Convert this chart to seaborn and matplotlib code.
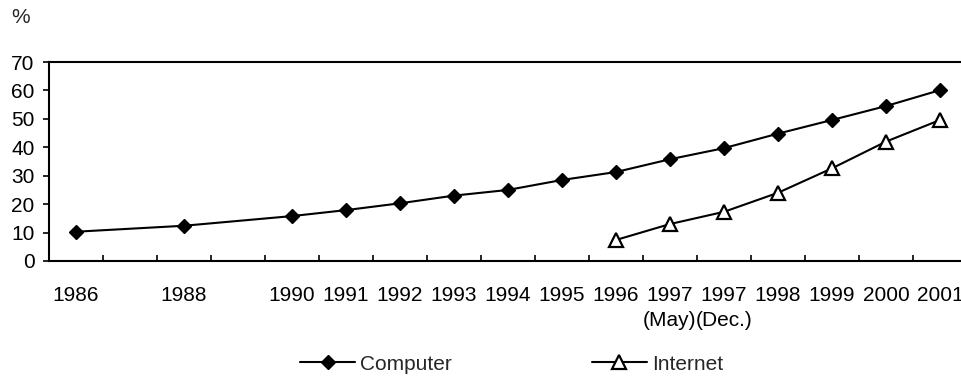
import matplotlib
matplotlib.use("Agg")
import matplotlib.pyplot as plt
import seaborn as sns
import pandas as pd

# ---- data ----
categories = ["1986", "", "1988", "", "1990", "1991", "1992", "1993", "1994",
              "1995", "1996", "1997\n(May)", "1997\n(Dec.)", "1998", "1999", "2000", "2001"]
computer_cats = ["1986", "1988", "1990", "1991", "1992", "1993", "1994", "1995",
                 "1996", "1997\n(May)", "1997\n(Dec.)", "1998", "1999", "2000", "2001"]
computer_vals = [10.3, 12.4, 15.8, 17.9, 20.3, 23.0, 25.0, 28.5, 31.3, 35.8, 39.7, 44.8, 49.6, 54.5, 60.1]
internet_cats = ["1996", "1997\n(May)", "1997\n(Dec.)", "1998", "1999", "2000", "2001"]
internet_vals = [7.4, 13.0, 17.3, 24.0, 32.6, 42.0, 49.6]
y_ticks = [0, 10, 20, 30, 40, 50, 60, 70]

sns.set_theme(style="white")
plt.rcParams["font.family"] = ["Liberation Sans", "DejaVu Sans"]
FS = 15

W, H = 962, 377
fig = plt.figure(figsize=(W / 100, H / 100), dpi=100)
ax = fig.add_axes([49 / W, (H - 261) / H, (17 * 54) / W, 199 / H])

pos = {c: i for i, c in enumerate(categories)}
df_c = pd.DataFrame({"x": [pos[c] for c in computer_cats], "y": computer_vals})
df_i = pd.DataFrame({"x": [pos[c] for c in internet_cats], "y": internet_vals})

sns.lineplot(data=df_c, x="x", y="y", ax=ax, color="black", lw=1.5,
             marker="D", markersize=7.5, markerfacecolor="black",
             markeredgecolor="black", markeredgewidth=1, label="Computer")
sns.lineplot(data=df_i, x="x", y="y", ax=ax, color="black", lw=1.5,
             marker="^", markersize=9.5, markerfacecolor="white",
             markeredgecolor="black", markeredgewidth=1.6, label="Internet")

ax.set_xlim(-0.5, len(categories) - 0.5)
ax.set_ylim(0, 70)

# category boundaries as inward ticks
ax.set_xticks([i + 0.5 for i in range(len(categories) - 1)])
ax.set_xticklabels([])
ax.tick_params(axis="x", which="major", direction="in", length=4.5, width=1.2,
               color="black", bottom=True)
ax.set_xticks(range(len(categories)), minor=True)
ax.set_xticklabels(categories, minor=True, fontsize=FS, linespacing=1.4)
ax.tick_params(axis="x", which="minor", length=0, pad=18, labelcolor="black")

ax.set_yticks(y_ticks)
ax.set_yticklabels([str(v) for v in y_ticks], fontsize=FS)
ax.tick_params(axis="y", direction="out", length=4.5, width=1.2, color="black",
               left=True, pad=6, labelcolor="black")

ax.set_xlabel("")
ax.set_ylabel("")
for s in ["left", "bottom", "top"]:
    ax.spines[s].set_visible(True)
    ax.spines[s].set_color("black")
    ax.spines[s].set_linewidth(1.5)
ax.spines["right"].set_visible(False)
ax.grid(False)

fig.text(21 / W, 1 - 17.5 / H, "%", fontsize=FS, ha="center", va="center")

ax.legend_.remove()
handles, labels = ax.get_legend_handles_labels()
fig.legend(handles, labels, loc="center left", bbox_to_anchor=(300 / W, 1 - 364 / H),
           ncol=2, frameon=False, fontsize=FS, handlelength=2.65, handletextpad=0.25,
           columnspacing=6.7, borderpad=0, borderaxespad=0)

fig.savefig("out.png", dpi=100)
